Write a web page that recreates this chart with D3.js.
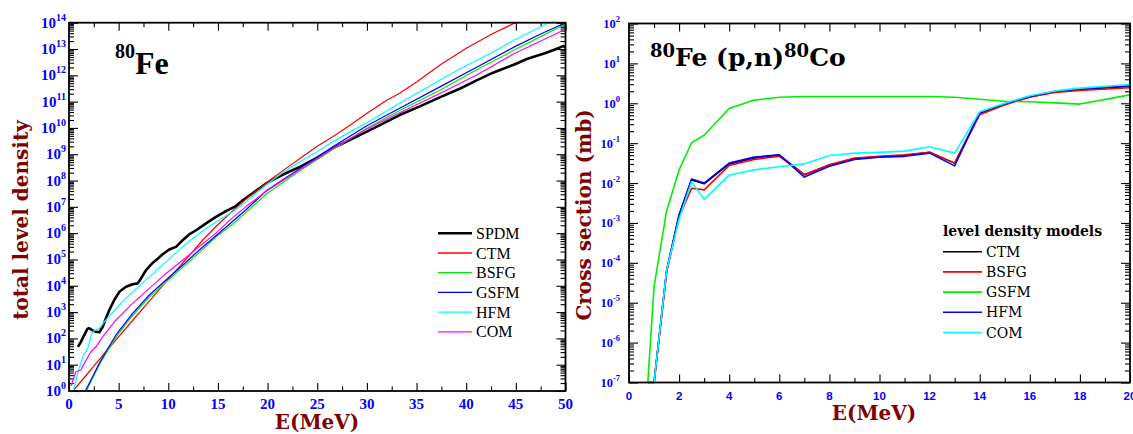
<!DOCTYPE html>
<html><head><meta charset="utf-8">
<script src="https://cdn.jsdelivr.net/npm/d3@7"></script>
<style>body{margin:0;background:#fff} svg{display:block}</style>
</head><body>
<svg id="chart" width="1133" height="434"></svg>
<script>
// ===== Left panel: total level density of 80Fe, log10(rho) vs E (MeV) =====
const spdmE   = [0.9,1.2,1.5,1.85,2.0,2.3,2.7,3.05,3.4,3.7,4.06,4.56,5.07,5.74,6.41,6.91,7.25,7.75,8.42,9.0,9.43,10.1,10.77,11.28,12.1,12.8,13.8,14.8,15.8,16.8,17.5,18.8,19.9,21.5,23.3,25.0,26.6,28.3,30.0,31.7,33.3,35.5,37.4,39.4,41.0,42.7,44.9,46.1,48.0,49.4,49.8,50];
const spdmLog = [1.68,1.87,2.1,2.36,2.39,2.32,2.25,2.23,2.44,2.75,3.08,3.46,3.77,3.96,4.06,4.09,4.28,4.59,4.87,5.05,5.2,5.38,5.48,5.67,5.95,6.11,6.37,6.62,6.84,7.03,7.25,7.6,7.9,8.22,8.53,8.87,9.23,9.55,9.86,10.18,10.49,10.85,11.17,11.5,11.8,12.1,12.42,12.62,12.85,13.05,13.12,13.05];
const ctmE    = [0.4,3.7,6.4,8,10,12,13.5,15,16.5,18,20,22,23.3,25,26.6,28.3,30,32,33.3,35,37.4,40,42.5,45.2];
const ctmLog  = [0,1.49,2.68,3.38,4.25,5.1,5.75,6.33,6.85,7.35,7.95,8.5,8.85,9.3,9.67,10.1,10.56,11.05,11.32,11.75,12.4,13.03,13.55,14.05];
const bsfgE   = [1.75,2.4,3.05,3.72,4.73,6.41,8.09,9.77,11.44,13.1,14.8,16.5,17.8,19.9,23.3,26.6,30,33.3,37.4,41,44.9,47.5,50];
const bsfgLog = [0,0.5,1.0,1.43,2.05,2.87,3.57,4.14,4.7,5.25,5.85,6.35,6.78,7.5,8.38,9.19,9.99,10.66,11.44,12.2,12.97,13.47,13.95];
const gsfmE   = [1.64,2.38,3.05,3.72,4.73,6.41,8.09,9.77,11.44,13.1,14.8,16.5,17.8,19.9,23.3,26.6,30,33.3,37.4,41,44.9,47.5,50];
const gsfmLog = [0,0.54,1.05,1.49,2.13,2.95,3.65,4.22,4.78,5.35,5.9,6.45,6.88,7.62,8.47,9.29,10.08,10.75,11.57,12.3,13.09,13.57,14.0];
const hfmE    = [0.44,0.87,1.38,1.88,2.3,2.45,3.05,3.72,5.07,6.41,8.09,9.77,11.44,13.1,14.8,16.5,17.8,19.9,21.5,23.3,25,26.6,28.3,30,33.3,37.4,39.4,42.5,44.9,48.3];
const hfmLog  = [0,0.67,1.3,1.62,2.19,2.28,2.38,2.7,3.27,3.77,4.34,4.91,5.48,5.99,6.43,6.81,7.19,7.85,8.3,8.72,9.1,9.48,9.85,10.2,10.94,11.83,12.25,12.85,13.35,14.0];
const comE    = [0.2,0.7,1.2,1.54,2.2,2.72,3.39,4.73,6.41,8.09,9.77,11.44,13.1,14.8,16.5,17.8,19.9,23.3,26.6,30,33.3,37.4,41,44.9,50];
const comLog  = [0.2,0.73,0.8,1.05,1.49,1.68,2.06,2.7,3.33,3.9,4.47,4.97,5.48,6.0,6.6,7.0,7.6,8.43,9.23,9.96,10.58,11.32,12.0,12.84,13.75];
const leftNames = ["SPDM","CTM","BSFG","GSFM","HFM","COM"];
const leftXTicks = [0,5,10,15,20,25,30,35,40,45,50];
const leftYExp = [0,1,2,3,4,5,6,7,8,9,10,11,12,13,14];

// ===== Right panel: 80Fe(p,n)80Co cross section, log10(sigma/mb) vs E (MeV) =====
const xsE      = [0.75,1.0,1.5,2.0,2.5,3.0,4.0,5.0,6.0,7.0,8.0,9.0,10.0,11.0,12.0,13.0,14.0,15.0,16.0,17.0,18.0,20.0];
const xsCTM    = [-7,-7,-4.2,-2.8,-1.92,-2.02,-1.52,-1.37,-1.3,-1.79,-1.55,-1.39,-1.34,-1.31,-1.23,-1.5,-0.25,-0.02,0.16,0.29,0.35,0.42];
const xsBSFG   = [-7,-7,-4.25,-2.85,-2.13,-2.17,-1.56,-1.41,-1.33,-1.79,-1.54,-1.37,-1.33,-1.29,-1.23,-1.5,-0.29,-0.04,0.16,0.27,0.32,0.39];
const xsGSFM   = [-7,-4.6,-2.7,-1.67,-0.99,-0.8,-0.13,0.08,0.15,0.17,0.17,0.17,0.17,0.17,0.17,0.15,0.1,0.05,0.04,0.01,-0.02,0.21];
const xsHFM    = [-7,-7,-4.2,-2.8,-1.9,-2.0,-1.5,-1.35,-1.29,-1.85,-1.58,-1.41,-1.35,-1.33,-1.25,-1.57,-0.23,-0.01,0.17,0.3,0.36,0.44];
const xsCOM    = [-7,-7,-4.2,-2.9,-1.97,-2.41,-1.8,-1.67,-1.59,-1.52,-1.31,-1.25,-1.23,-1.2,-1.09,-1.25,-0.21,0.0,0.19,0.31,0.38,0.47];
const rightNames = ["CTM","BSFG","GSFM","HFM","COM"];
const rightXTicks = [0,2,4,6,8,10,12,14,16,18,20];
const rightYExp = [-7,-6,-5,-4,-3,-2,-1,0,1,2];

// ===== styling =====
const leftColors  = ["#000000","#ff0000","#00ee00","#0000ff","#00ffff","#ff00ff"];
const leftWidths  = [2.6,1.2,1.2,1.2,1.2,1.2];
const rightColors = ["#000000","#ff0000","#00ee00","#0000ff","#00ffff"];
const blueLbl = "#0000ff", titleRed = "#800000";

const svg = d3.select("#chart");
svg.append("rect").attr("width",1133).attr("height",434).attr("fill","#fff");

function drawPanel(cfg){
  const x = d3.scaleLinear().domain(cfg.xDomain).range([cfg.x0,cfg.x1]);
  const y = d3.scaleLog().domain(cfg.yDomain).range([cfg.y0,cfg.y1]);
  const g = svg.append("g");
  const id = "clip"+cfg.id;
  svg.append("clipPath").attr("id",id).append("rect")
    .attr("x",cfg.x0).attr("y",cfg.y1).attr("width",cfg.x1-cfg.x0).attr("height",cfg.y0-cfg.y1+1);

  const xMinor = [];
  for(let i=0;i<cfg.xTicks.length-1;i++) xMinor.push((cfg.xTicks[i]+cfg.xTicks[i+1])/2);
  const yMajor = cfg.yExp.map(e=>Math.pow(10,e));
  const yMinor = [];
  for(let i=0;i<cfg.yExp.length-1;i++) for(let k=2;k<10;k++) yMinor.push(k*Math.pow(10,cfg.yExp[i]));
  const noDom = s=>{s.select(".domain").remove(); s.selectAll("line").attr("stroke","#000").attr("stroke-width",1.1);};
  g.append("g").attr("transform",`translate(0,${cfg.y0})`).call(d3.axisBottom(x).tickValues(cfg.xTicks).tickSize(-8).tickFormat("")).call(noDom);
  g.append("g").attr("transform",`translate(0,${cfg.y0})`).call(d3.axisBottom(x).tickValues(xMinor).tickSize(-4.5).tickFormat("")).call(noDom);
  g.append("g").attr("transform",`translate(0,${cfg.y1})`).call(d3.axisTop(x).tickValues(cfg.xTicks).tickSize(-8).tickFormat("")).call(noDom);
  g.append("g").attr("transform",`translate(0,${cfg.y1})`).call(d3.axisTop(x).tickValues(xMinor).tickSize(-4.5).tickFormat("")).call(noDom);
  g.append("g").attr("transform",`translate(${cfg.x0},0)`).call(d3.axisLeft(y).tickValues(yMajor).tickSize(-9).tickFormat("")).call(noDom);
  g.append("g").attr("transform",`translate(${cfg.x0},0)`).call(d3.axisLeft(y).tickValues(yMinor).tickSize(-5).tickFormat("")).call(noDom);
  g.append("g").attr("transform",`translate(${cfg.x1},0)`).call(d3.axisRight(y).tickValues(yMajor).tickSize(-9).tickFormat("")).call(noDom);
  g.append("g").attr("transform",`translate(${cfg.x1},0)`).call(d3.axisRight(y).tickValues(yMinor).tickSize(-5).tickFormat("")).call(noDom);

  const line = d3.line().x(d=>x(d[0])).y(d=>y(Math.max(Math.pow(10,d[1]),cfg.yDomain[0])));
  const lg = g.append("g").attr("clip-path",`url(#${id})`);
  cfg.series.forEach(s=>{
    lg.append("path").datum(s.E.map((e,i)=>[e,s.v[i]]))
      .attr("d",line).attr("fill","none").attr("stroke",s.color)
      .attr("stroke-width",s.w).attr("stroke-linejoin","round");
  });

  g.append("rect").attr("x",cfg.x0).attr("y",cfg.y1).attr("width",cfg.x1-cfg.x0).attr("height",cfg.y0-cfg.y1)
    .attr("fill","none").attr("stroke","#000").attr("stroke-width",1.8);

  g.selectAll(null).data(cfg.xTicks).enter().append("text")
    .attr("x",d=>x(d)).attr("y",cfg.xLblY).attr("text-anchor","middle")
    .attr("font-family",cfg.tickFont).attr("font-weight","bold").attr("font-size",cfg.xLblSize)
    .attr("fill",blueLbl).text(d=>d);
  const yl = g.selectAll(null).data(cfg.yExp).enter().append("text")
    .attr("x",cfg.yLblX).attr("y",d=>y(Math.pow(10,d))+cfg.yLblDy).attr("text-anchor","end")
    .attr("font-family",cfg.yTickFont).attr("font-weight","bold").attr("font-size",cfg.yLblSize).attr("fill",blueLbl);
  yl.append("tspan").text("10");
  yl.append("tspan").attr("font-size",cfg.ySupSize).attr("dy",cfg.ySupDy).text(d=>d);
  return {x,y,g};
}

const L = drawPanel({id:"L", xDomain:[0,50], yDomain:[1,1e14], x0:69, x1:565.5, y0:391, y1:22.7,
  xTicks:leftXTicks, yExp:leftYExp,
  series:[[spdmE,spdmLog],[ctmE,ctmLog],[bsfgE,bsfgLog],[gsfmE,gsfmLog],[hfmE,hfmLog],[comE,comLog]]
    .map((a,i)=>({E:a[0],v:a[1],color:leftColors[i],w:leftWidths[i]})),
  tickFont:"Liberation Serif", yTickFont:"Liberation Serif", xLblY:409, xLblSize:15,
  yLblX:66, yLblDy:5, yLblSize:15, ySupSize:10, ySupDy:-7});

const R = drawPanel({id:"R", xDomain:[0,20], yDomain:[1e-7,1e2], x0:629, x1:1130, y0:382.5, y1:23.5,
  xTicks:rightXTicks, yExp:rightYExp,
  series:[xsCTM,xsBSFG,xsGSFM,xsHFM,xsCOM].map((v,i)=>({E:xsE,v:v,color:rightColors[i],w:1.6})),
  tickFont:"Liberation Sans", yTickFont:"Liberation Sans Narrow", xLblY:399.5, xLblSize:11.5,
  yLblX:620, yLblDy:4.5, yLblSize:12.5, ySupSize:8.5, ySupDy:-6});

function axisTitle(txt,x,y,rot){
  svg.append("text").attr("transform",`translate(${x},${y}) rotate(${rot})`).attr("text-anchor","middle")
    .attr("font-family","DejaVu Serif").attr("font-weight","bold").attr("font-size",20)
    .attr("fill",titleRed).text(txt);
}
axisTitle("total level density",28,220,-90);
axisTitle("E(MeV)",317,429,0);
axisTitle("Cross section (mb)",591,215,-90);
axisTitle("E(MeV)",874,420,0);

const t1 = svg.append("text").attr("x",115).attr("y",74).attr("font-family","Liberation Serif").attr("font-weight","bold");
t1.append("tspan").attr("font-size",20).attr("dy",-16).text("80");
t1.append("tspan").attr("font-size",32).attr("dy",16).text("Fe");
const t2 = svg.append("text").attr("x",650).attr("y",66).attr("font-family","DejaVu Serif").attr("font-weight","bold");
t2.append("tspan").attr("font-size",18).attr("dy",-9).text("80");
t2.append("tspan").attr("font-size",25).attr("dy",9).text("Fe (p,n)");
t2.append("tspan").attr("font-size",18).attr("dy",-9).text("80");
t2.append("tspan").attr("font-size",25).attr("dy",9).text("Co");

const legL = svg.append("g");
leftNames.forEach((n,i)=>{
  const yy = 233.3 + i*19.7;
  legL.append("line").attr("x1",438).attr("x2",472).attr("y1",yy).attr("y2",yy).attr("stroke",leftColors[i]).attr("stroke-width",i===0?2.4:1.3);
  legL.append("text").attr("x",476).attr("y",yy+5.5).attr("font-family","Liberation Serif").attr("font-size",16).text(n);
});
const legR = svg.append("g");
legR.append("text").attr("x",943).attr("y",236).attr("font-family","DejaVu Serif").attr("font-weight","bold").attr("font-size",14).text("level density models");
rightNames.forEach((n,i)=>{
  const yy = 251.7 + i*20.2;
  legR.append("line").attr("x1",943).attr("x2",982).attr("y1",yy).attr("y2",yy).attr("stroke",rightColors[i]).attr("stroke-width",1.6);
  legR.append("text").attr("x",986).attr("y",yy+5).attr("font-family","DejaVu Serif").attr("font-size",14).text(n);
});
</script>
</body></html>
